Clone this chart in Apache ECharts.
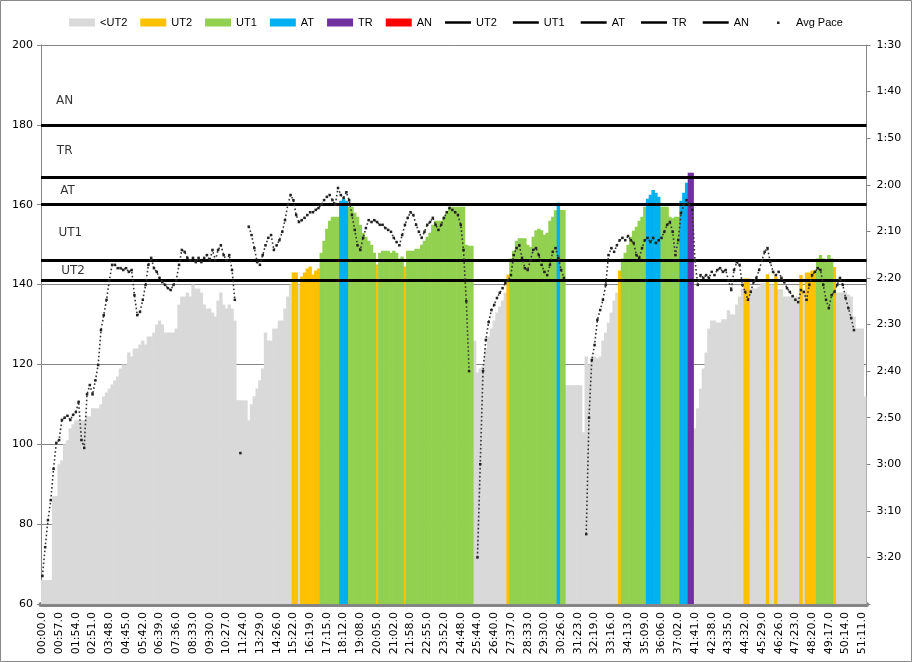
<!DOCTYPE html>
<html><head><meta charset="utf-8">
<script src="https://cdn.jsdelivr.net/npm/echarts@6/dist/echarts.min.js"></script>
<style>html,body{margin:0;padding:0;background:#fff}#c{width:912px;height:662px}</style>
</head><body><div id="c"></div><script>
const tickLabels = ['00:00.0','00:57.0','01:54.0','02:51.0','03:48.0','04:45.0','05:42.0','06:39.0','07:36.0','08:33.0','09:30.0','10:27.0','11:24.0','13:29.0','14:26.0','15:22.0','16:19.0','17:15.0','18:12.0','19:08.0','20:05.0','21:02.0','21:58.0','22:55.0','23:52.0','24:48.0','25:44.0','26:40.0','27:37.0','28:33.0','29:30.0','30:26.0','31:23.0','32:19.0','33:16.0','34:13.0','35:09.0','36:06.0','37:02.0','41:41.0','42:38.0','43:35.0','44:32.0','45:29.0','46:26.0','47:23.0','48:20.0','49:17.0','50:14.0','51:11.0'];
const samplesPerTick = 6;
const heartRate = [
66,66,66,66,87,87,95,96,100,101,
104,105,106,106,106,106,107,107,109,109,
109,110,112,113,114,115,116,117,119,120,
120,123,122,124,124,125,126,125,127,127,
128,130,131,130,128,128,128,128,129,135,
137,137,138,137,140,139,139,138,135,134,
134,133,132,136,138,135,134,135,134,131,
111,111,111,111,106,110,112,114,116,119,
128,126,126,129,129,131,131,134,137,140,
143,143,140,142,143,144,144.5,142.5,143.5,144,
148,151,154,156,157,157,157,161,161.5,161,
159.5,159.5,158,157,155,153,152,151,150,148,
145,148,148.5,148.5,148.5,148,148.5,148,146.5,147,
144.5,148.5,148.5,148.5,149,149,150,151,152,153,
155,156,156,156,157,158,159.5,159.5,159.5,159.5,
159.5,159.5,150,149.7,149.7,126,118,119,119.5,124,
127,129,131,133,134.5,136,138,142.5,146.5,148.5,
151,151.6,151.6,151.6,150,149.4,152,153.6,154,153.6,
152.5,153,156,157,158.6,160.5,158.7,158.7,114.8,114.8,
114.8,114.8,114.8,114.8,103,122,120,121,122,121.5,
122,126,128,130.5,133,136,138,143.5,146.5,148,
150,152,153.5,154.5,156,157,159.5,161.5,162.5,163.7,
163,162,159.5,159.5,159.5,157,156.6,157,157,161,
163,165.5,168,168,104,109,114,119,123,129,
131,131,130.5,130.5,131.3,131.3,133.6,132.5,132.5,135,
137,139,141.5,141.5,139,139,139,139.5,140.4,140.4,
142.6,140,140,142,138.8,138.8,137,137,137,137,
137,137,142.4,138.5,143,143,143.5,143.6,146.5,147.4,
146.5,146.1,147.4,146.5,144.4,138,138,138,138,137.5,
137,132,129,129,129,112];
const avgPaceSec = [
204,197.8,192,187.7,181,175.4,174.8,170.5,170,169.6,
170.5,169.4,168.8,166.6,174.8,176.5,165,163,165,162,
158.7,151.2,148,144.7,140.5,137.2,137.2,137.9,137.9,138.3,
137.9,138.7,138.3,143.7,148,147.3,144.7,141.5,137.2,135.7,
137.9,138.7,140,140.9,141.5,142.2,142.6,141.5,140.5,137.2,
134,134.4,135.7,136.2,135.7,136.6,135.7,136.6,135.7,135.1,
136.2,134,136.2,134,133,135.1,136.2,135.1,138.3,144.7,
null,177.6,null,null,129,130.8,133.6,136.6,137.2,135.1,
133,131.4,130.8,134,133,131.9,130.1,127.6,124.3,122.2,
123.3,126.5,128,127.6,127.1,126.5,125.9,125.9,125.4,125,
124.3,123.3,122.6,122.2,123.3,124.3,120.7,122.2,122.8,121.6,
123.3,126.5,129.7,133,134,131.4,129.3,127.6,128,127.6,
128,128.6,128.6,129.3,129.7,130.1,131.4,132.3,133,130.8,
128.6,127.1,125.9,126.5,128.6,130.1,131.4,130.1,128.6,128,
127.1,128.6,129.7,128.6,127.1,125.9,125,125.4,125.9,126.5,
128.6,134,145,160,null,null,200,180,160,153.3,
149.5,146.9,145.8,144.3,143.2,142.2,141.1,140.5,139.4,135.1,
133.6,133,135.7,137.9,138.3,136.2,134,133.6,135.1,137.2,
138.7,139.4,137.2,134.4,133.6,135.7,138.3,140,null,null,
null,null,null,null,null,195,170,157.6,154.4,149,
146.9,144.7,141.5,135.1,133.6,134.4,133,131.9,131.4,131.9,
131,131.9,132.5,135.1,135.7,133.6,131.9,131.4,132.3,131.4,
132.5,131.9,131.4,130.1,128.6,128,130.1,135.1,131.9,126.1,
124.3,123.3,124.3,125.4,136.2,141.5,139.4,140,139.4,140,
138.7,139.4,138.3,137.9,138.7,138.3,140.5,142.6,138.3,136.6,
137.2,141.5,143,144.7,143,140.9,140,138.3,136.2,134.4,
133.6,136.6,138.7,139.4,138.7,140,140.9,142.2,143,143.9,
144.7,145.2,142.6,143,144.7,141.5,139.4,138.7,137.9,138.3,
141.5,144.7,146.5,143.7,143,141.5,140,141.5,144.3,146.5,
148.6,151.2,null,null,null,null];
const zoneNames = ['<UT2','UT2','UT1','AT','TR','AN'];
const zoneColors = ['#D9D9D9','#FFC000','#92D050','#00B0F0','#7030A0','#FF0000'];
const thresholdNames = ['UT2','UT1','AT','TR','AN'];
const thresholdValues = [141,146,160,167,180];
const zoneTextNames = ['AN','TR','AT','UT1','UT2'];
const zoneTextHR = [186,173.5,163.5,153,143.5];
const zoneTextSample = [8,8,9,10,11];

const categories = heartRate.map((v,i)=> (i % samplesPerTick === 0 && tickLabels[i/samplesPerTick]) ? tickLabels[i/samplesPerTick] : ('s'+i));
function zoneOf(v){ let z=0; for(const t of thresholdValues){ if(v>=t) z++; } return z; }

const series = [];
zoneNames.forEach((n,k)=>{
  series.push({name:n,type:'bar',barGap:'-100%',barCategoryGap:'0%',barWidth:3.4,z:2,
    itemStyle:{color:zoneColors[k]},animation:false,
    data: heartRate.map(v=> zoneOf(v)===k ? v : '-')});
});
thresholdNames.forEach((n,k)=>{
  series.push({name:n+' ',type:'line',data:[],symbol:'none',z:3,
    lineStyle:{color:'#000',width:3},itemStyle:{color:'#000'},
    markLine:{silent:true,symbol:'none',animation:false,label:{show:false},
      lineStyle:{color:'#000',width:3,type:'solid'},data:[{yAxis:thresholdValues[k]}]}});
});
series.push({name:'Avg Pace',type:'line',yAxisIndex:1,symbol:'rect',symbolSize:2.5,showAllSymbol:true,z:5,animation:false,
  connectNulls:false,
  itemStyle:{color:'#222'},lineStyle:{color:'#333',width:1.6,type:[1.6,2.4]},
  data: avgPaceSec.map(v=> v==null?'-':v)});
series.push({type:'scatter',symbolSize:0,z:6,silent:true,animation:false,
  label:{show:true,position:'inside',color:'#000',fontSize:12,fontFamily:'DejaVu Sans',formatter:p=>zoneTextNames[p.dataIndex]},
  data: zoneTextNames.map((t,i)=>[zoneTextSample[i],zoneTextHR[i]])});

function fmtPace(v){ if(v>=210) return ''; const m=Math.floor(v/60), s=Math.round(v%60); return m+':'+String(s).padStart(2,'0'); }

const lineIcon = 'path://M0,0L0.01,0M0,2.7h26v2.6H0zM26,8L26.01,8';
const chart = echarts.init(document.getElementById('c'),null,{renderer:'canvas'});
chart.setOption({
  animation:false,
  backgroundColor:'#fff',
  graphic:[{type:'rect',shape:{x:0.5,y:0.5,width:911,height:661},style:{fill:'none',stroke:'#888',lineWidth:1},silent:true}],
  legend:{top:12,left:'center',itemWidth:26,itemHeight:8,itemGap:13,
    textStyle:{color:'#000',fontSize:11,fontFamily:'Liberation Sans'},
    data:[...zoneNames.map(n=>({name:n,icon:'rect'})),
      ...thresholdNames.map(n=>({name:n+' ',icon:lineIcon})),
      {name:'Avg Pace',icon:'path://M0,0L0.01,0M12,3h2.5v2.5h-2.5zM26,8L26.01,8'}]},
  grid:{left:41,right:45.5,top:45,bottom:58},
  xAxis:{type:'category',data:categories,boundaryGap:true,
    axisLine:{lineStyle:{color:'#858585',width:5}},
    axisTick:{show:false},
    axisLabel:{interval:samplesPerTick-1,rotate:90,color:'#000',fontSize:11,fontFamily:'DejaVu Sans',margin:8,
      formatter:v=> v.charAt(0)==='s' ? '' : v}},
  yAxis:[
    {type:'value',min:60,max:200,interval:20,position:'left',
      axisLine:{show:true,lineStyle:{color:'#868686'}},axisTick:{show:true,length:4,lineStyle:{color:'#868686'}},
      axisLabel:{color:'#000',fontSize:11,fontFamily:'DejaVu Sans',margin:8},
      splitLine:{show:true,lineStyle:{color:'#868686',width:1}}},
    {type:'value',min:90,max:210,interval:10,inverse:true,position:'right',
      axisLine:{show:true,lineStyle:{color:'#868686'}},axisTick:{show:true,length:4,lineStyle:{color:'#868686'}},
      axisLabel:{color:'#000',fontSize:11,fontFamily:'DejaVu Sans',margin:10,formatter:fmtPace},
      splitLine:{show:false}}
  ],
  series:series
});
</script></body></html>
